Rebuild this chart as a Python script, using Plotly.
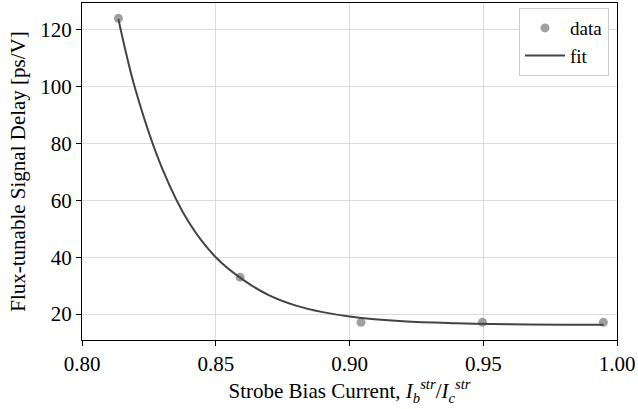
import plotly.graph_objects as go

# Data
data_x = [0.8136, 0.8591, 0.9043, 0.9497, 0.9949]
data_y = [124.0, 33.0, 17.1, 17.1, 17.1]

# Fit curve values
fit_x = [0.8136, 0.82, 0.83, 0.84, 0.85, 0.86, 0.87, 0.88, 0.89, 0.90, 0.92, 0.94, 0.96, 0.98, 0.995]
fit_y = [123.8, 98.9, 71.2, 52.2, 40.0, 32.2, 26.6, 23.0, 20.7, 19.2, 17.5, 16.8, 16.45, 16.3, 16.25]

x_ticks = [0.80, 0.85, 0.90, 0.95, 1.00]
y_ticks = [20, 40, 60, 80, 100, 120]

FONT = "Liberation Serif"

fig = go.Figure()
fig.add_trace(go.Scatter(x=data_x, y=data_y, mode="markers", name="data",
                         marker=dict(color="rgba(128,128,128,0.75)", size=9)))
fig.add_trace(go.Scatter(x=fit_x, y=fit_y, mode="lines", name="fit",
                         line=dict(color="#444444", width=2, shape="spline", smoothing=1.0)))

fig.update_layout(
    width=638, height=409,
    margin=dict(l=82, r=21, t=3, b=69),
    paper_bgcolor="white", plot_bgcolor="white",
    font=dict(family=FONT, size=21, color="black"),
    legend=dict(x=0.985, y=0.985, xanchor="right", yanchor="top",
                bgcolor="white", bordercolor="#cccccc", borderwidth=1,
                font=dict(family=FONT, size=19), itemwidth=40),
    xaxis=dict(range=[0.80, 1.00], tickvals=x_ticks,
               ticktext=[f"{v:.2f}" for v in x_ticks],
               showgrid=True, gridcolor="#dcdcdc", gridwidth=1,
               showline=True, linecolor="black", linewidth=1.3, mirror=True,
               ticks="outside", ticklen=5, tickcolor="black",
               zeroline=False,
               title=dict(text="Strobe Bias Current, <i>I</i><sub><i>b</i></sub><sup><i>str</i></sup>/<i>I</i><sub><i>c</i></sub><sup><i>str</i></sup>",
                          font=dict(family=FONT, size=21), standoff=2)),
    yaxis=dict(range=[10.9, 129.4], tickvals=y_ticks,
               showgrid=True, gridcolor="#dcdcdc", gridwidth=1,
               showline=True, linecolor="black", linewidth=1.3, mirror=True,
               ticks="outside", ticklen=5, tickcolor="black",
               zeroline=False,
               title=dict(text="Flux-tunable Signal Delay [ps/V]",
                          font=dict(family=FONT, size=21), standoff=8)),
)

fig.write_html("out.html")
